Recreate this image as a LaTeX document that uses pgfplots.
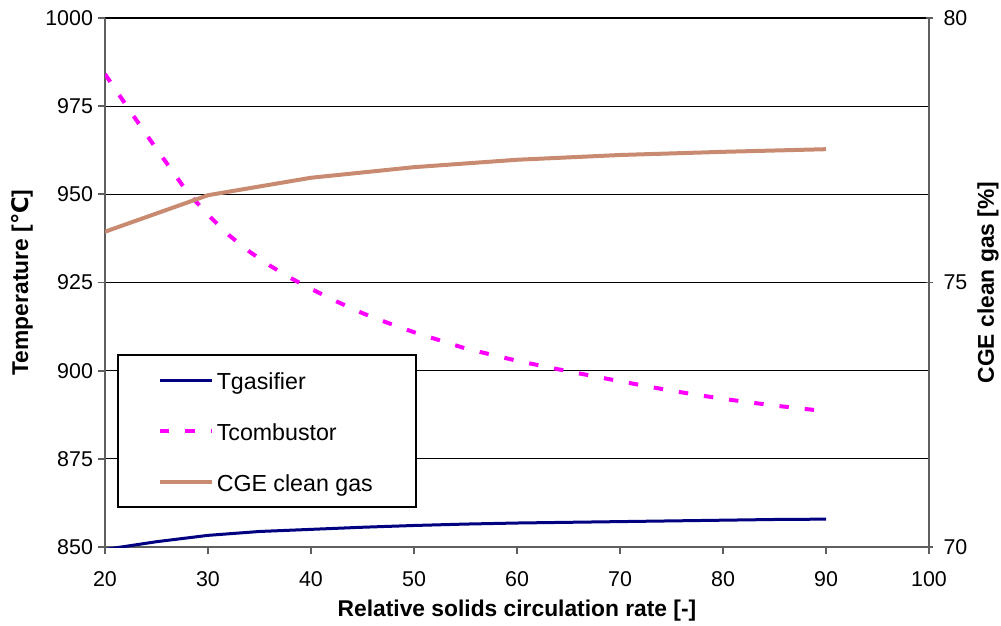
\documentclass[border=0pt]{standalone}
\usepackage{pgfplots}
\pgfplotsset{compat=1.18}
\usepackage{fontspec}
\setmainfont{Liberation Sans}
\newfontfamily\dejavu{DejaVu Sans}
\definecolor{navyline}{RGB}{0,0,128}
\definecolor{magline}{RGB}{255,0,255}
\definecolor{cgeline}{RGB}{200,138,112}
\definecolor{axgray}{RGB}{95,95,95}
\begin{document}
\begin{tikzpicture}
\pgfplotsset{
  every axis/.append style={
    scale only axis, width=412pt, height=264.5pt,
    xmin=20, xmax=100,
    /pgf/number format/assume math mode=true,
    /pgf/number format/1000 sep={},
    tick label style={font=\fontsize{10.7}{12}\selectfont},
    label style={font=\fontsize{11.4}{13}\selectfont\bfseries},
    axis line style={axgray, line width=0.9pt},
    major tick length=3.5pt,
    every tick/.style={axgray, line width=0.9pt},
  }
}
\begin{axis}[
  name=ax,
  axis x line*=bottom, axis y line*=left,
  ymin=850, ymax=1000, ytick={850,875,...,1000},
  xtick={20,30,...,100},
  tick align=outside,
  ymajorgrids, major grid style={black, line width=0.6pt},
  yticklabel style={xshift=1pt},
  xticklabel style={yshift=-5pt},
  xlabel={Relative solids circulation rate [-]},
  ylabel={Temperature [{\dejavu\bfseries ℃}]},
  xlabel style={at={(axis description cs:0.5,-0.121)}, anchor=center},
  ylabel style={at={(axis description cs:-0.1007,0.5)}, anchor=center},
  legend image code/.code={\draw[#1] (0pt,0pt) -- (26pt,0pt);},
  legend cell align=left,
  legend style={at={(axis description cs:0.01456,0.0737)}, anchor=south west,
    font=\fontsize{11.6}{13}\selectfont, draw=black, line width=0.8pt, fill=white,
    inner xsep=20pt, inner ysep=7.35pt, row sep=15.2pt,
    nodes={inner xsep=1.5pt, inner ysep=0pt, text height=10pt, text depth=0.3pt}},
]
\addplot[navyline, line width=1.5pt] coordinates {
 (20,849.3) (25,851.5) (30,853.3) (35,854.4) (40,855.0) (45,855.6) (50,856.1)
 (55,856.5) (60,856.8) (65,857.0) (70,857.2) (75,857.4) (80,857.6) (85,857.8) (90,857.9)};
\addlegendentry{Tgasifier}
\addplot[magline, line width=2pt, dash pattern=on 4.7pt off 8pt] coordinates {
 (20,984.1) (22,975.5) (24,967.0) (26,958.8) (28,950.6) (30,944.2) (32,938.5)
 (34,933.8) (36,929.8) (38,926.3) (40,923.2) (42.5,919.6) (45,916.3) (47.5,913.5)
 (50,910.9) (55,906.3) (60,902.8) (65,899.8) (70,897.0) (75,894.3) (80,892.0)
 (85,890.1) (90,888.5)};
\addlegendentry{Tcombustor}
\addlegendimage{cgeline, line width=2pt}
\addlegendentry{CGE clean gas}
\end{axis}
\begin{axis}[
  axis x line=none, axis y line*=right,
  ymin=70, ymax=80, ytick={70,75,80},
  tick align=center,
  yticklabel style={xshift=2pt},
  ylabel={CGE clean gas [\%]},
  ylabel style={at={(axis description cs:1.0716,0.5)}, anchor=center, rotate=0},
]
\addplot[cgeline, line width=2pt] coordinates {
 (20,75.96) (30,76.65) (40,76.98) (50,77.18) (60,77.32) (70,77.41) (80,77.47) (90,77.52)};
\end{axis}
\pgfresetboundingbox
\path[use as bounding box] ([shift={(-52.5pt,-39.5pt)}]ax.south west) rectangle ([shift={(36pt,9pt)}]ax.north east);
\end{tikzpicture}
\end{document}
